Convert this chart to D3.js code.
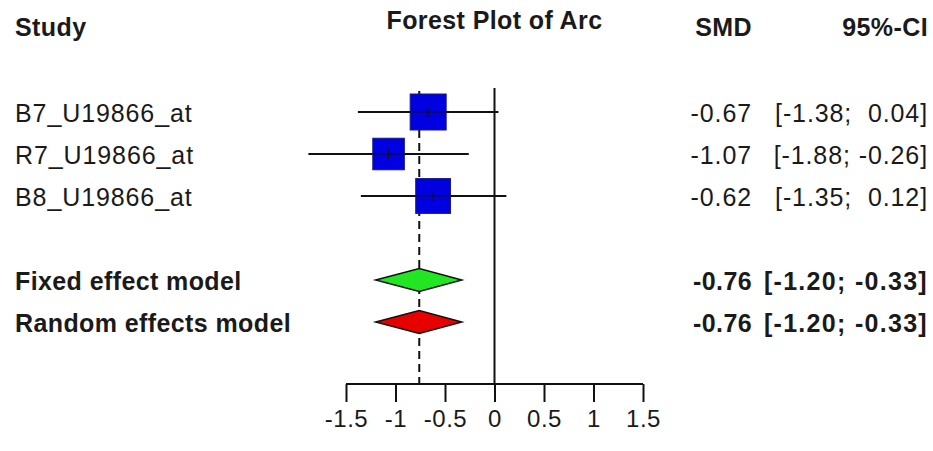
<!DOCTYPE html>
<html>
<head>
<meta charset="utf-8">
<script src="https://cdn.jsdelivr.net/npm/d3@7"></script>
<style>
  body { margin: 0; background: #fff; }
  text { font-family: "Liberation Sans", Arial, sans-serif; fill: #1a1a1a; }
</style>
</head>
<body>
<div id="forest"></div>
<script>
// study data
var studies = ["B7_U19866_at", "R7_U19866_at", "B8_U19866_at"];
var smd = [-0.67, -1.07, -0.62];
var ciLow = [-1.38, -1.88, -1.35];
var ciHigh = [0.04, -0.26, 0.12];
var weights = [37.0, 28.4, 34.6];

// pooled models
var models = ["Fixed effect model", "Random effects model"];
var modelSmd = [-0.76, -0.76];
var modelLow = [-1.20, -1.20];
var modelHigh = [-0.33, -0.33];
var modelColours = ["#22e622", "#e60000"];

var ticks = [-1.5, -1, -0.5, 0, 0.5, 1, 1.5];

var width = 933, height = 451, fontSize = 25;

var svg = d3.select("#forest")
  .append("svg")
  .attr("width", width)
  .attr("height", height);

// x scale for effect sizes
var x = d3.scaleLinear()
  .domain([-1.5, 1.5])
  .range([346, 643]);

// rows: 3 studies, a blank row, 2 models
var y = d3.scaleLinear()
  .domain([0, 5])
  .range([112, 322]);

var boxSize = d3.scaleSqrt()
  .domain([0, d3.max(weights)])
  .range([0, 36]);

// plain hyphen instead of the unicode minus d3 puts in
var fmt = function(v) { return d3.format(".2f")(v).replace("\u2212", "-"); };
function ciText(lo, hi) {
  return "[" + fmt(lo) + ";" + (hi < 0 ? "" : "\u00a0") + " " + fmt(hi) + "]";
}

var rows = studies.map(function(s, i) {
  return {name: s, est: smd[i], lo: ciLow[i], hi: ciHigh[i], w: weights[i], row: i};
});
var pooled = models.map(function(m, i) {
  return {name: m, est: modelSmd[i], lo: modelLow[i], hi: modelHigh[i], col: modelColours[i], row: i + 4};
});

var axisY = 384;

function styleText(sel, bold) {
  sel.style("font-size", fontSize + "px")
    .style("font-weight", bold ? "bold" : "normal")
    .style("letter-spacing", bold ? "0.4px" : "0.9px");
}

// headers
svg.append("text").text("Study")
  .attr("x", 15).attr("y", 36)
  .call(styleText, true);
svg.append("text").text("Forest Plot of Arc")
  .attr("x", x(0)).attr("y", 29)
  .attr("text-anchor", "middle")
  .call(styleText, true);
svg.append("text").text("SMD")
  .attr("x", 752).attr("y", 36)
  .attr("text-anchor", "end")
  .call(styleText, true);
svg.append("text").text("95%-CI")
  .attr("x", 928).attr("y", 36)
  .attr("text-anchor", "end")
  .call(styleText, true);

// zero line
svg.append("line")
  .attr("x1", x(0)).attr("x2", x(0))
  .attr("y1", 88).attr("y2", axisY)
  .attr("stroke", "#111").attr("stroke-width", 2);

// dashed line at the fixed effect estimate
svg.append("line")
  .attr("x1", x(modelSmd[0])).attr("x2", x(modelSmd[0]))
  .attr("y1", 91).attr("y2", axisY)
  .attr("stroke", "#111").attr("stroke-width", 2)
  .attr("stroke-dasharray", "8,5");

// CI lines
svg.append("g").selectAll("line")
  .data(rows)
  .enter()
  .append("line")
  .attr("x1", function(d) { return x(d.lo); })
  .attr("x2", function(d) { return x(d.hi); })
  .attr("y1", function(d) { return y(d.row); })
  .attr("y2", function(d) { return y(d.row); })
  .attr("stroke", "#111").attr("stroke-width", 2);

// boxes
svg.append("g").selectAll("rect")
  .data(rows)
  .enter()
  .append("rect")
  .attr("x", function(d) { return x(d.est) - boxSize(d.w) / 2; })
  .attr("y", function(d) { return y(d.row) - boxSize(d.w) / 2; })
  .attr("width", function(d) { return boxSize(d.w); })
  .attr("height", function(d) { return boxSize(d.w); })
  .attr("fill", "#0000e0")
  .attr("stroke", "#1a1a80").attr("stroke-width", 1);

// thin cross inside boxes
svg.append("g").selectAll("line")
  .data(rows)
  .enter()
  .append("line")
  .attr("x1", function(d) { return x(d.est) - boxSize(d.w) / 2; })
  .attr("x2", function(d) { return x(d.est) + boxSize(d.w) / 2; })
  .attr("y1", function(d) { return y(d.row); })
  .attr("y2", function(d) { return y(d.row); })
  .attr("stroke", "#111").attr("stroke-width", 1);
svg.append("g").selectAll("line")
  .data(rows)
  .enter()
  .append("line")
  .attr("x1", function(d) { return x(d.est); })
  .attr("x2", function(d) { return x(d.est); })
  .attr("y1", function(d) { return y(d.row) - 5; })
  .attr("y2", function(d) { return y(d.row) + 5; })
  .attr("stroke", "#111").attr("stroke-width", 1);

// diamonds
svg.append("g").selectAll("path")
  .data(pooled)
  .enter()
  .append("path")
  .attr("d", function(d) {
    var cy = y(d.row), h = 11.5;
    return "M" + x(d.lo) + "," + cy + "L" + x(d.est) + "," + (cy - h) +
      "L" + x(d.hi) + "," + cy + "L" + x(d.est) + "," + (cy + h) + "Z";
  })
  .attr("fill", function(d) { return d.col; })
  .attr("stroke", "#111").attr("stroke-width", 1.5);

// labels on the left
svg.append("g").selectAll("text")
  .data(rows.concat(pooled))
  .enter()
  .append("text")
  .text(function(d) { return d.name; })
  .attr("x", 15)
  .attr("y", function(d) { return y(d.row) + 10; })
  .each(function(d) { d3.select(this).call(styleText, d.row > 3); });

// SMD values
svg.append("g").selectAll("text")
  .data(rows.concat(pooled))
  .enter()
  .append("text")
  .text(function(d) { return fmt(d.est); })
  .attr("x", 752)
  .attr("y", function(d) { return y(d.row) + 10; })
  .attr("text-anchor", "end")
  .each(function(d) { d3.select(this).call(styleText, d.row > 3); });

// CI values (bold ones a bit wider in the original)
svg.append("g").selectAll("text")
  .data(rows.concat(pooled))
  .enter()
  .append("text")
  .text(function(d) { return ciText(d.lo, d.hi); })
  .attr("x", 928)
  .attr("y", function(d) { return y(d.row) + 10; })
  .attr("text-anchor", "end")
  .style("white-space", "pre")
  .each(function(d) {
    d3.select(this).call(styleText, d.row > 3);
    if (d.row > 3) d3.select(this).style("letter-spacing", "1.3px");
  });

// x axis
var axis = svg.append("g")
  .attr("transform", "translate(0," + axisY + ")")
  .call(d3.axisBottom(x).tickValues(ticks).tickSize(18).tickPadding(8)
    .tickFormat(function(d) { return String(d); }));
axis.select(".domain")
  .attr("stroke", "#111").attr("stroke-width", 2)
  .attr("d", "M" + x(-1.5) + ",0H" + x(1.5));
axis.selectAll(".tick line").attr("stroke", "#111").attr("stroke-width", 2);
axis.selectAll(".tick text")
  .style("font-family", "'Liberation Sans', Arial, sans-serif")
  .style("font-size", "24px")
  .style("letter-spacing", "0.5px")
  .attr("fill", "#1a1a1a");
</script>
</body>
</html>
